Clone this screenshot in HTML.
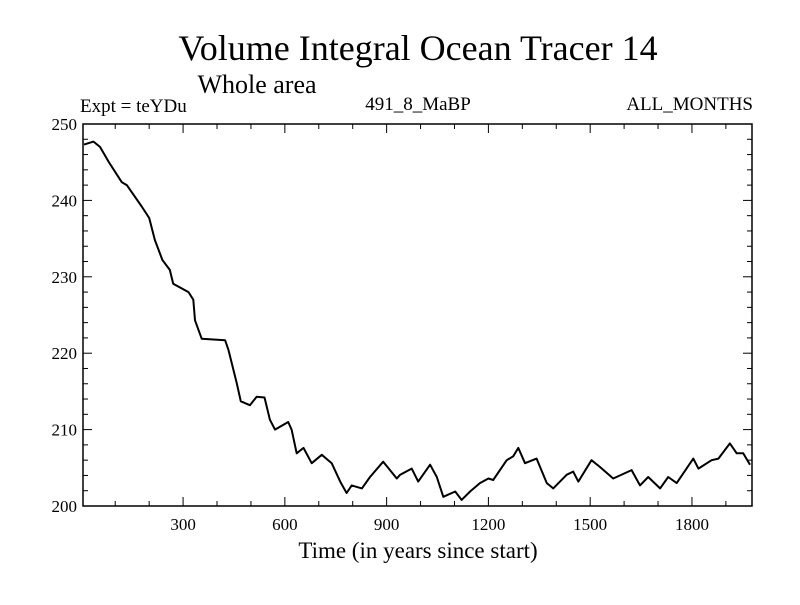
<!DOCTYPE html>
<html><head><meta charset="utf-8"><style>
body{margin:0;background:#fff;}
svg text{font-family:"Liberation Serif",serif;fill:#000;}
</style></head><body>
<svg id="c" width="800" height="600">
<text x="418" y="60" font-size="36" text-anchor="middle">Volume Integral Ocean Tracer 14</text>
<text x="257" y="93" font-size="26" text-anchor="middle">Whole area</text>
<text x="80" y="112" font-size="19">Expt = teYDu</text>
<text x="418" y="110" font-size="19" text-anchor="middle">491_8_MaBP</text>
<text x="753" y="110" font-size="19" text-anchor="end">ALL_MONTHS</text>
<text x="418" y="558" font-size="23" text-anchor="middle">Time (in years since start)</text>
<g id="ax"></g>
<rect x="83" y="124" width="669" height="382" fill="none" stroke="#000" stroke-width="1.5"/>
<path id="ln" fill="none" stroke="#000" stroke-width="2" stroke-linejoin="round"/>
</svg>
<script>
const years=[8,36,55,80,119,134,178,200,217,239,261,271,316,330,335,355,424,434,458,470,497,517,540,556,571,610,620,635,655,679,709,738,763,782,797,827,851,890,930,940,974,993,1028,1048,1067,1102,1121,1146,1175,1200,1214,1254,1273,1288,1308,1342,1372,1391,1431,1450,1465,1504,1529,1568,1622,1647,1671,1706,1730,1755,1804,1819,1858,1878,1912,1932,1951,1971];
const values=[247.3,247.7,247.0,245.1,242.4,242.0,239.2,237.7,234.8,232.2,230.9,229.1,228.0,227.0,224.3,221.9,221.7,220.4,216.1,213.7,213.2,214.3,214.2,211.3,210.0,211.0,210.0,206.9,207.6,205.6,206.7,205.6,203.2,201.7,202.7,202.3,203.8,205.8,203.6,204.1,204.9,203.2,205.4,203.8,201.2,201.9,200.8,201.9,203.0,203.6,203.4,206.0,206.5,207.6,205.6,206.2,203.0,202.3,204.1,204.5,203.2,206.0,205.1,203.6,204.7,202.7,203.8,202.3,203.8,203.0,206.2,204.9,206.0,206.2,208.2,206.9,206.9,205.4];
const xTicks=[300,600,900,1200,1500,1800];
const yTicks=[200,210,220,230,240,250];
const X0=5,X1=1977,Y0=200,Y1=250;
const L=83,R=752,T=124,B=506;
const sx=v=>L+(v-X0)/(X1-X0)*(R-L);
const sy=v=>B-(v-Y0)/(Y1-Y0)*(B-T);
const ns="http://www.w3.org/2000/svg";
const ax=document.getElementById('ax');
function ln(x1,y1,x2,y2){const l=document.createElementNS(ns,'line');l.setAttribute('x1',x1);l.setAttribute('y1',y1);l.setAttribute('x2',x2);l.setAttribute('y2',y2);l.setAttribute('stroke','#000');l.setAttribute('stroke-width','1');


ax.appendChild(l);}
function tx(x,y,s,a){const t=document.createElementNS(ns,'text');t.setAttribute('x',x);t.setAttribute('y',y);t.setAttribute('font-size','17');t.setAttribute('text-anchor',a);t.textContent=s;


ax.appendChild(t);}
for(let v=100;v<=X1;v+=100){const x=sx(v);const m=v%300===0?9:5;ln(x,B,x,B-m);ln(x,T,x,T+m);}
xTicks.forEach(v=>tx(sx(v),530,v,'middle'));
for(let v=Y0;v<=Y1;v+=2){const y=sy(v);const m=v%10===0?9:5;ln(L,y,L+m,y);ln(R,y,R-m,y);}
yTicks.forEach(v=>tx(L-6,sy(v)+6,v,'end'));
document.getElementById('ln').setAttribute('d',years.map((y,i)=>(i?'L':'M')+sx(y).toFixed(1)+','+sy(values[i]).toFixed(1)).join(''));
</script>
</body></html>
